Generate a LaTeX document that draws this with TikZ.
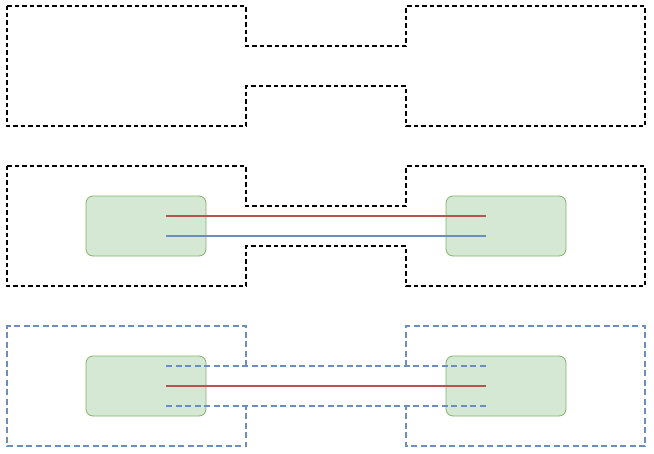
\documentclass[tikz,border=0pt]{standalone}
\begin{document}
\begin{tikzpicture}[x=1pt,y=-1pt,
  blk/.style={line width=1.5pt,dash pattern=on 4.5pt off 3pt,black},
  bluo/.style={line width=1.2pt,dash pattern=on 6pt off 3.5pt,draw={rgb,255:red,108;green,142;blue,191}},
  gbox/.style={draw={rgb,255:red,130;green,179;blue,102},line width=0.8pt,fill={rgb,255:red,213;green,232;blue,212},rounded corners=7pt,minimum width=120pt,minimum height=60pt,inner sep=0pt},
  redl/.style={line width=1.4pt,draw={rgb,255:red,184;green,84;blue,80}},
  bluel/.style={line width=1.4pt,draw={rgb,255:red,108;green,142;blue,191}}]
\useasboundingbox (0,0) rectangle (654,453);
% top
\draw[blk] (7,6) -- (246,6) -- (246,46) -- (406,46) -- (406,6) -- (645,6) -- (645,126) -- (406,126) -- (406,86) -- (246,86) -- (246,126) -- (7,126) -- cycle;
% middle
\draw[blk] (7,166) -- (246,166) -- (246,206) -- (406,206) -- (406,166) -- (645,166) -- (645,286) -- (406,286) -- (406,246) -- (246,246) -- (246,286) -- (7,286) -- cycle;
\node[gbox] (gl1) at (146,226) {};
\node[gbox] (gr1) at (506,226) {};
\coordinate (a1) at (166,216); \coordinate (b1) at (486,216);
\coordinate (a2) at (166,236); \coordinate (b2) at (486,236);
\draw[redl] (a1) -- (b1);
\draw[bluel] (a2) -- (b2);
% bottom
\node[gbox] (gl2) at (146,386) {};
\node[gbox] (gr2) at (506,386) {};
\draw[bluo] (246,366) -- (246,326) -- (7,326) -- (7,446) -- (246,446) -- (246,406);
\draw[bluo] (406,366) -- (406,326) -- (645,326) -- (645,446) -- (406,446) -- (406,406);
\draw[bluo] (166,366) -- (486,366);
\draw[bluo] (166,406) -- (486,406);
\coordinate (a3) at (166,386); \coordinate (b3) at (486,386);
\draw[redl] (a3) -- (b3);
\end{tikzpicture}
\end{document}
